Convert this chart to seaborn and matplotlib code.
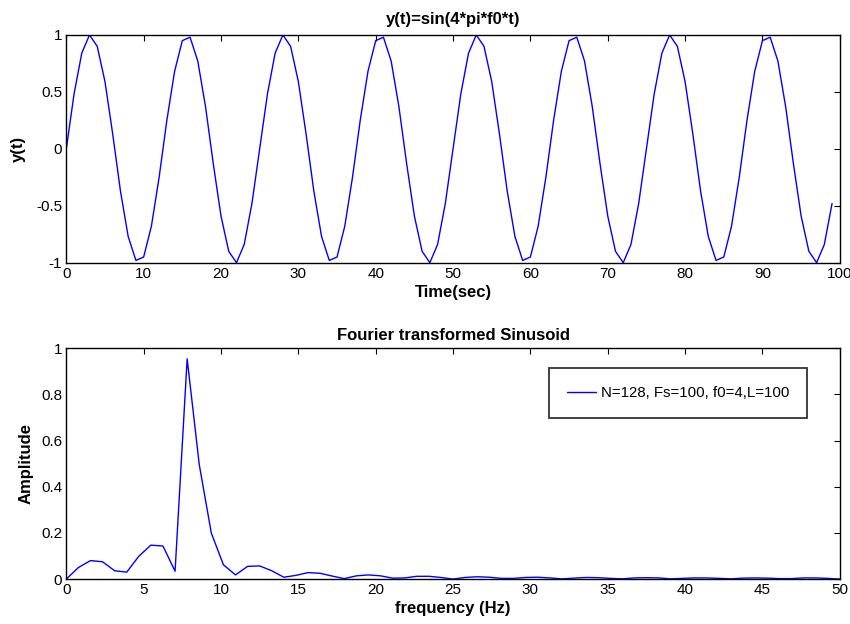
import matplotlib
matplotlib.use("Agg")
import matplotlib.pyplot as plt
import seaborn as sns
import pandas as pd

# ---- data ----
time_sec = list(range(100))
y_values = [0.00, 0.48, 0.84, 1.00, 0.90, 0.59, 0.13, -0.37, -0.77, -0.98, -0.95, -0.68, -0.25,
            0.25, 0.68, 0.95, 0.98, 0.77, 0.37, -0.13, -0.59, -0.90, -1.00, -0.84, -0.48,
            0.00, 0.48, 0.84, 1.00, 0.90, 0.59, 0.13, -0.37, -0.77, -0.98, -0.95, -0.68, -0.25,
            0.25, 0.68, 0.95, 0.98, 0.77, 0.37, -0.13, -0.59, -0.90, -1.00, -0.84, -0.48,
            0.00, 0.48, 0.84, 1.00, 0.90, 0.59, 0.13, -0.37, -0.77, -0.98, -0.95, -0.68, -0.25,
            0.25, 0.68, 0.95, 0.98, 0.77, 0.37, -0.13, -0.59, -0.90, -1.00, -0.84, -0.48,
            0.00, 0.48, 0.84, 1.00, 0.90, 0.59, 0.13, -0.37, -0.77, -0.98, -0.95, -0.68, -0.25,
            0.25, 0.68, 0.95, 0.98, 0.77, 0.37, -0.13, -0.59, -0.90, -1.00, -0.84, -0.48]

freq_hz = [0.0, 0.78125, 1.5625, 2.34375, 3.125, 3.90625, 4.6875, 5.46875, 6.25, 7.03125,
           7.8125, 8.59375, 9.375, 10.15625, 10.9375, 11.71875, 12.5, 13.28125, 14.0625, 14.84375,
           15.625, 16.40625, 17.1875, 17.96875, 18.75, 19.53125, 20.3125, 21.09375, 21.875, 22.65625,
           23.4375, 24.21875, 25.0, 25.78125, 26.5625, 27.34375, 28.125, 28.90625, 29.6875, 30.46875,
           31.25, 32.03125, 32.8125, 33.59375, 34.375, 35.15625, 35.9375, 36.71875, 37.5, 38.28125,
           39.0625, 39.84375, 40.625, 41.40625, 42.1875, 42.96875, 43.75, 44.53125, 45.3125, 46.09375,
           46.875, 47.65625, 48.4375, 49.21875, 50.0]
amplitude = [0.000, 0.050, 0.080, 0.075, 0.036, 0.030, 0.099, 0.147, 0.143, 0.034,
             0.954, 0.496, 0.199, 0.062, 0.018, 0.055, 0.057, 0.036, 0.008, 0.016,
             0.028, 0.025, 0.013, 0.002, 0.014, 0.018, 0.014, 0.004, 0.005, 0.012,
             0.012, 0.007, 0.000, 0.007, 0.010, 0.008, 0.003, 0.003, 0.007, 0.008,
             0.005, 0.001, 0.004, 0.007, 0.006, 0.003, 0.001, 0.005, 0.006, 0.005,
             0.001, 0.003, 0.005, 0.005, 0.003, 0.001, 0.004, 0.005, 0.004, 0.002,
             0.002, 0.005, 0.005, 0.003, 0.000]

top_title = "y(t)=sin(4*pi*f0*t)"
bottom_title = "Fourier transformed Sinusoid"
legend_label = "N=128, Fs=100, f0=4,L=100"

sns.set_style("white")
plt.rcParams['font.family'] = ['Liberation Sans', 'DejaVu Sans']
plt.rcParams['text.color'] = 'black'
plt.rcParams['axes.labelcolor'] = 'black'
plt.rcParams['xtick.color'] = 'black'
plt.rcParams['ytick.color'] = 'black'

fig = plt.figure(figsize=(8.5, 6.24), dpi=100)
ax1 = fig.add_axes([0.078, 0.579, 0.910, 0.365])
ax2 = fig.add_axes([0.078, 0.072, 0.910, 0.370])

df1 = pd.DataFrame({"t": time_sec, "y": y_values})
df2 = pd.DataFrame({"f": freq_hz, "a": amplitude, "s": legend_label})

sns.lineplot(data=df1, x="t", y="y", ax=ax1, color=(0, 0, 1), lw=1)
sns.lineplot(data=df2, x="f", y="a", hue="s", palette=[(0, 0, 1)], ax=ax2, lw=1)

for ax in (ax1, ax2):
    for sp in ax.spines.values():
        sp.set_visible(True)
        sp.set_color("black")
        sp.set_linewidth(1.0)
    ax.tick_params(direction="in", length=4, width=0.8, top=True, right=True,
                   labelsize=11, colors="black", pad=3)

lab_fs = 12
ax1.set_xlim(0, 100)
ax1.set_ylim(-1, 1)
ax1.set_xticks([0, 10, 20, 30, 40, 50, 60, 70, 80, 90, 100])
ax1.set_yticks([-1, -0.5, 0, 0.5, 1])
ax1.set_yticklabels(["-1", "-0.5", "0", "0.5", "1"])
ax1.set_xlabel("Time(sec)", fontsize=lab_fs, fontweight="bold", labelpad=3)
ax1.set_ylabel("y(t)", fontsize=lab_fs, fontweight="bold", labelpad=7)
ax1.set_title(top_title, fontsize=lab_fs, fontweight="bold", pad=8, color="black")

ax2.set_xlim(0, 50)
ax2.set_ylim(0, 1)
ax2.set_xticks([0, 5, 10, 15, 20, 25, 30, 35, 40, 45, 50])
ax2.set_yticks([0, 0.2, 0.4, 0.6, 0.8, 1])
ax2.set_yticklabels(["0", "0.2", "0.4", "0.6", "0.8", "1"])
ax2.set_xlabel("frequency (Hz)", fontsize=lab_fs, fontweight="bold", labelpad=3)
ax2.set_ylabel("Amplitude", fontsize=lab_fs, fontweight="bold", labelpad=5)
ax2.set_title(bottom_title, fontsize=lab_fs, fontweight="bold", pad=6, color="black")

leg = ax2.legend(loc="upper right", bbox_to_anchor=(0.958, 0.913), fontsize=10.8,
                 frameon=True, fancybox=False, handlelength=1.9, handleheight=0.7,
                 borderpad=1.2, handletextpad=0.35, borderaxespad=0)
leg.get_frame().set_edgecolor("black")
leg.get_frame().set_linewidth(1.3)
for t in leg.get_texts():
    t.set_color("black")

fig.savefig("out.png", dpi=100)
